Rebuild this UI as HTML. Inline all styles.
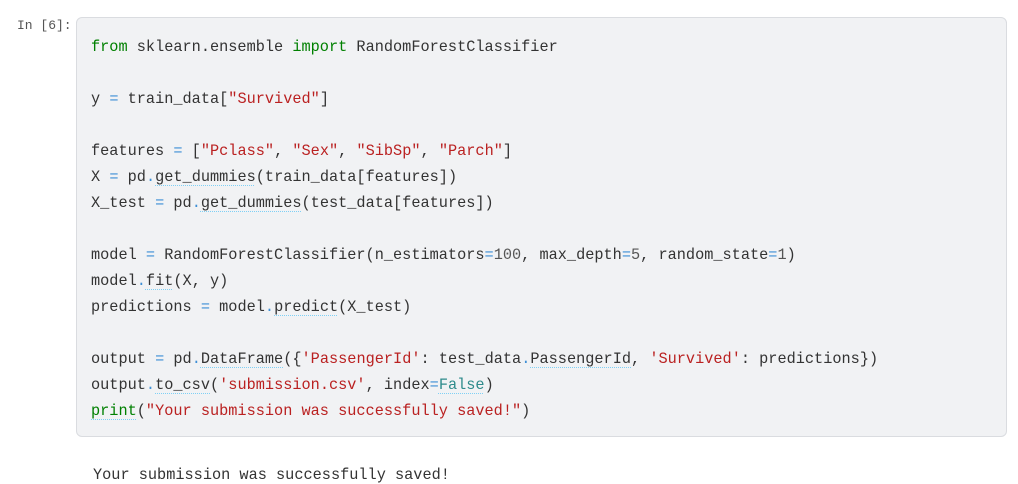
<!DOCTYPE html>
<html><head><meta charset="utf-8"><style>
body{margin:0;background:#fff;width:1018px;height:483px;overflow:hidden;position:relative;font-family:"Liberation Mono",monospace;}
.p{position:absolute;left:17px;top:18px;font-size:13px;color:#555;}
.box{position:absolute;left:76px;top:17px;width:929px;height:418px;background:#f1f2f4;border:1px solid #dadce0;border-radius:6px;}
pre{margin:0;position:absolute;left:91px;top:34px;font-family:"Liberation Mono",monospace;font-size:15.25px;line-height:26px;color:#333;}
.k{color:#008000}.s{color:#ba2121}.o{color:#3d8fd6}.n{color:#555}.b{color:#2e8b8b}
.u{text-decoration:underline dotted #7fd0f5;text-decoration-thickness:1px;text-underline-offset:4px;}
.out{position:absolute;left:93px;top:466px;font-size:15.25px;color:#333;}
</style></head><body>
<div class="p">In [6]:</div>
<div class="box"></div>
<pre><span class="k">from</span> sklearn.ensemble <span class="k">import</span> RandomForestClassifier

y <span class="o">=</span> train_data[<span class="s">"Survived"</span>]

features <span class="o">=</span> [<span class="s">"Pclass"</span>, <span class="s">"Sex"</span>, <span class="s">"SibSp"</span>, <span class="s">"Parch"</span>]
X <span class="o">=</span> pd<span class="o">.</span><span class="u">get_dummies</span>(train_data[features])
X_test <span class="o">=</span> pd<span class="o">.</span><span class="u">get_dummies</span>(test_data[features])

model <span class="o">=</span> RandomForestClassifier(n_estimators<span class="o">=</span><span class="n">100</span>, max_depth<span class="o">=</span><span class="n">5</span>, random_state<span class="o">=</span><span class="n">1</span>)
model<span class="o">.</span><span class="u">fit</span>(X, y)
predictions <span class="o">=</span> model<span class="o">.</span><span class="u">predict</span>(X_test)

output <span class="o">=</span> pd<span class="o">.</span><span class="u">DataFrame</span>({<span class="s">'PassengerId'</span>: test_data<span class="o">.</span><span class="u">PassengerId</span>, <span class="s">'Survived'</span>: predictions})
output<span class="o">.</span><span class="u">to_csv</span>(<span class="s">'submission.csv'</span>, index<span class="o">=</span><span class="b u">False</span>)
<span class="k u">print</span>(<span class="s">"Your submission was successfully saved!"</span>)</pre>
<div class="out">Your submission was successfully saved!</div>
</body></html>
